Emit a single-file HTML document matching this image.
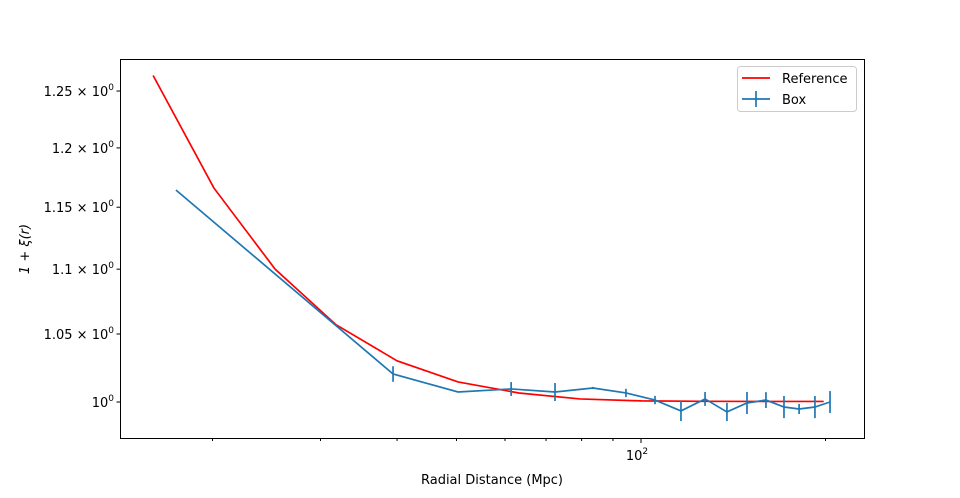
<!DOCTYPE html>
<html><head><meta charset="utf-8"><style>
body{margin:0;background:#fff}
svg text{font-family:"DejaVu Sans","Liberation Sans",sans-serif;fill:#000}
</style></head><body>
<svg id="chart" width="960" height="493" xmlns="http://www.w3.org/2000/svg">
<rect width="960" height="493" fill="#fff"/>
<g id="plot"></g>
<rect x="120.5" y="59.5" width="744" height="379" fill="none" stroke="#000" stroke-width="1"/>
<text x="492" y="484" font-size="13" text-anchor="middle">Radial Distance (Mpc)</text>
<text transform="translate(29,249) rotate(-90)" font-size="13" text-anchor="middle" font-style="italic">1 + ξ(r)</text>
<g>
<rect x="737.5" y="66.5" width="119" height="45" rx="3" fill="#fff" stroke="#ccc"/>
<line x1="742" y1="78" x2="770" y2="78" stroke="#f00" stroke-width="1.7"/>
<text x="782" y="83" font-size="13">Reference</text>
<line x1="742" y1="99" x2="770" y2="99" stroke="#1f77b4" stroke-width="1.7"/>
<line x1="756" y1="91" x2="756" y2="107" stroke="#1f77b4" stroke-width="1.7"/>
<text x="782" y="104" font-size="13">Box</text>
</g>
</svg>
<script>
const refR=[16,20.1,25.3,31.8,40,50.3,63.2,79.5,100,125.7,158,198.6];
const refV=[1.264,1.166,1.100,1.057,1.030,1.0145,1.0065,1.0022,1.0008,1.0005,1.0004,1.0004];
const boxR=[17.43,39.4,50.3,61.4,72.4,83.5,94.5,105.4,116.2,127.2,138.1,148.9,159.9,171.1,181.1,192.2,203.4];
const boxV=[1.1643,1.0203,1.0072,1.0094,1.0072,1.0101,1.0065,1.0014,0.9936,1.0022,0.9929,0.9993,1.0014,0.9964,0.9950,0.9964,1.0];
const boxErr=[0,0.0057,0,0.005,0.0065,0.0008,0.003,0.003,0.0072,0.005,0.0065,0.0079,0.0057,0.0079,0.0036,0.0079,0.0079];
const yTicks=[1,1.05,1.1,1.15,1.2,1.25];
const yTickLabels=["10","1.05 × 10","1.1 × 10","1.15 × 10","1.2 × 10","1.25 × 10"];
const xMinor=[20,30,40,50,60,70,80,90,200];
const NS="http://www.w3.org/2000/svg";
const X=r=>641+613*Math.log10(r/100);
const Y=v=>402-3209*Math.log10(v);
const g=document.getElementById('plot');
function mk(t,a){const e=document.createElementNS(NS,t);for(const k in a)e.setAttribute(k,a[k]);g.appendChild(e);return e;}
yTicks.forEach((v,i)=>{
 const l=mk('line',{x1:116.5,x2:120.5,y1:Y(v),y2:Y(v),stroke:'#000'});
 
 
 const t=mk('text',{x:106,y:Y(v)+5,'font-size':13,'text-anchor':'end'});
 
 
 t.textContent=yTickLabels[i];
 const s=document.createElementNS(NS,'tspan');s.setAttribute('dy','-6');s.setAttribute('font-size','9');s.textContent='0';t.appendChild(s);
 t.setAttribute('x',114);
});
xMinor.forEach(r=>{
 const l=mk('line',{x1:X(r),x2:X(r),y1:438.5,y2:441,stroke:'#000'});
 
 
});
{const l=mk('line',{x1:X(100),x2:X(100),y1:438.5,y2:443,stroke:'#000'});


const t=mk('text',{x:X(100)-4,y:460,'font-size':13,'text-anchor':'middle'});


t.textContent='10';const s=document.createElementNS(NS,'tspan');s.setAttribute('dy','-6');s.setAttribute('font-size','9');s.textContent='2';t.appendChild(s);}
const rp=mk('polyline',{points:refR.map((r,i)=>X(r)+','+Y(refV[i])).join(' '),fill:'none',stroke:'#f00','stroke-width':1.7});


const bp=mk('polyline',{points:boxR.map((r,i)=>X(r)+','+Y(boxV[i])).join(' '),fill:'none',stroke:'#1f77b4','stroke-width':1.7});


boxR.forEach((r,i)=>{if(!boxErr[i])return;
 const e=mk('line',{x1:X(r),x2:X(r),y1:Y(boxV[i]+boxErr[i]),y2:Y(boxV[i]-boxErr[i]),stroke:'#1f77b4','stroke-width':1.7});
 
 
});
</script>
</body></html>
